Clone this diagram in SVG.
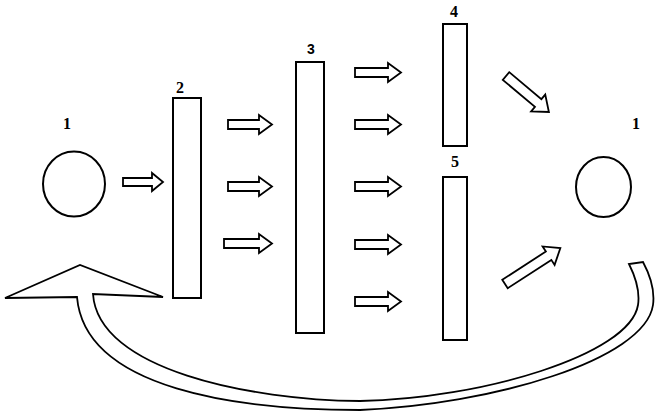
<svg xmlns="http://www.w3.org/2000/svg" width="661" height="415" viewBox="0 0 661 415">
<style>
.s{fill:#fff;stroke:#000;stroke-width:2}
.a{fill:#fff;stroke:#000;stroke-width:1.8;stroke-linejoin:miter}
.t{font-family:"Liberation Serif",serif;font-weight:bold;font-size:16px;text-anchor:middle}
.ts{font-family:"Liberation Sans",sans-serif;font-weight:bold;font-size:14px;text-anchor:middle}
</style>
<rect width="661" height="415" fill="#fff"/>
<g id="node-source">
<ellipse class="s" cx="74" cy="184" rx="31" ry="32.5" stroke-width="1.5"/>
<text class="t" x="67" y="129">1</text>
</g>
<g id="node-2">
<rect class="s" x="173" y="98" width="28" height="200"/>
<text class="t" x="180" y="93">2</text>
</g>
<g id="node-3">
<rect class="s" x="296" y="62" width="28" height="271"/>
<text class="ts" x="311" y="54">3</text>
</g>
<g id="node-4">
<rect class="s" x="443" y="24" width="24" height="122"/>
<text class="t" x="454" y="17">4</text>
</g>
<g id="node-5">
<rect class="s" x="443" y="177" width="24" height="163"/>
<text class="t" x="455" y="167">5</text>
</g>
<g id="node-target">
<ellipse class="s" cx="603.5" cy="187" rx="27.5" ry="30" stroke-width="1.5"/>
<text class="t" x="636" y="129">1</text>
</g>
<g id="connectors">
<path class="a" d="M123 178H152V173L163 182L152 191V186H123Z"/>
<path class="a" d="M228 120H259V115L272 124.5L259 134V129H228Z"/>
<path class="a" d="M228 182H259V177L272 186.5L259 196V191H228Z"/>
<path class="a" d="M224 239H259V234L272 243.5L259 253V248H224Z"/>
<path class="a" d="M355 68H388V63L401 72.5L388 82V77H355Z"/>
<path class="a" d="M355 120H388V115L401 124.5L388 134V129H355Z"/>
<path class="a" d="M355 182H388V177L401 186.5L388 196V191H355Z"/>
<path class="a" d="M355 240H388V235L401 244.5L388 254V249H355Z"/>
<path class="a" d="M355 297H388V292L401 301.5L388 311V306H355Z"/>
<path class="a" transform="translate(506,76) rotate(40)" d="M0 -5H42V-11L56 0L42 11V5H0Z"/>
<path class="a" transform="translate(505,284) rotate(-33)" d="M0 -5H52V-11L66 0L52 11V5H0Z"/>
<path class="a" d="M5 298L80 265L163 297L93 294C98 370 250 400 360 401C480 399 630 355 638 305C640 292 636 278 629 264L643 262C650 275 655 290 653 305C645 360 490 405 360 410C240 410 85 390 77 297Z"/>
</g>
</svg>
